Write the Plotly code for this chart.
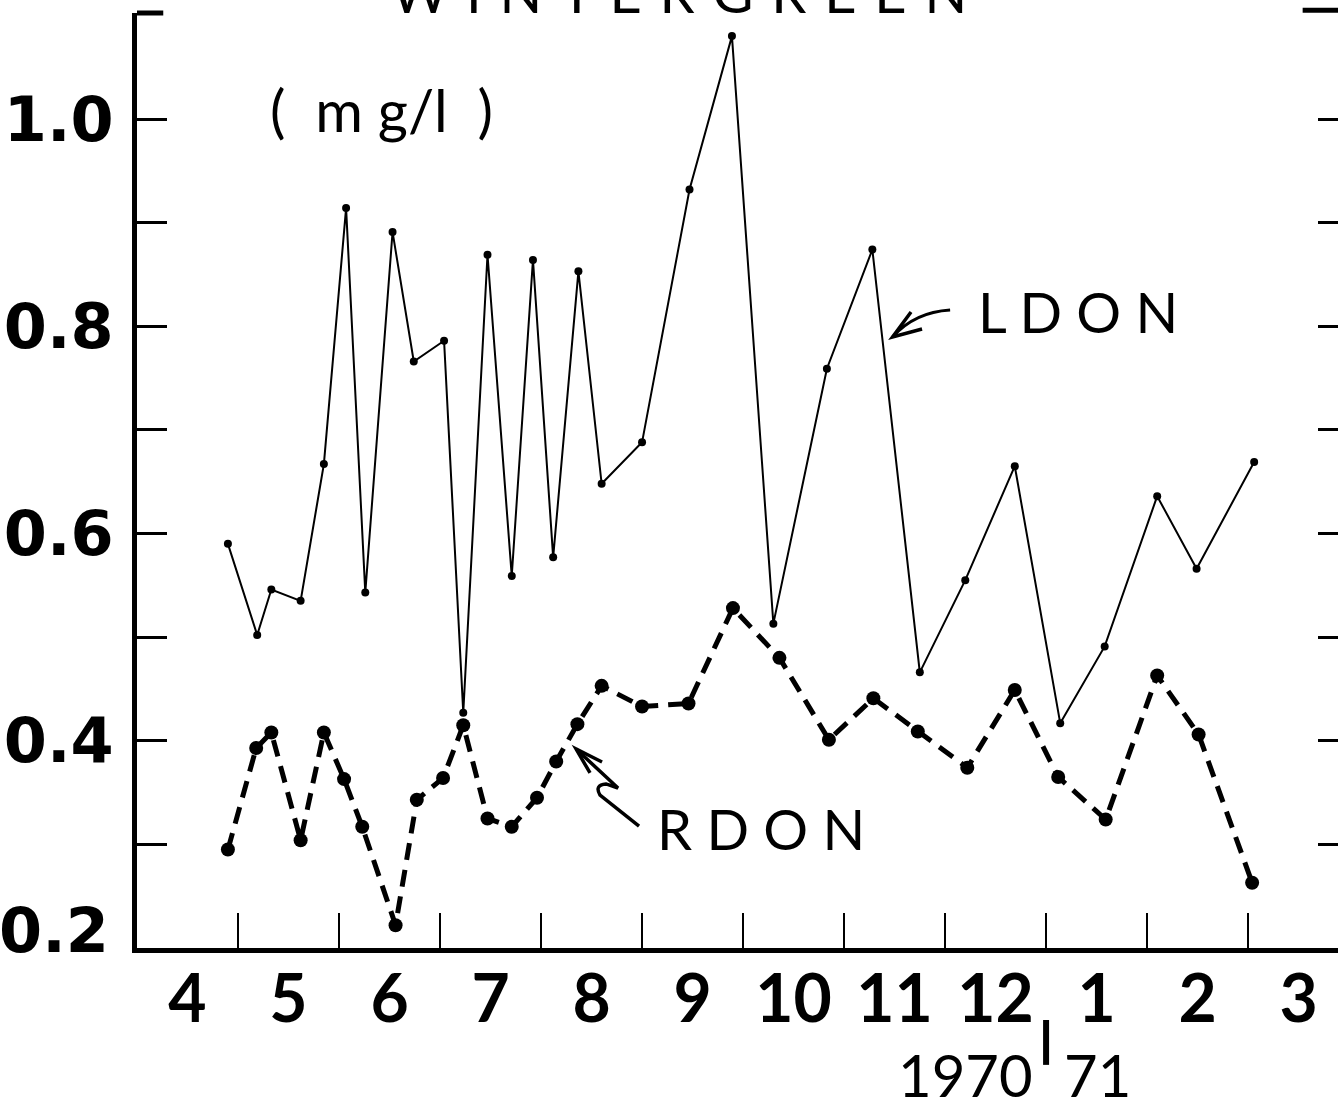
import plotly.graph_objects as go

# Sampling positions in months since 1 April 1970 (tick 1 = start of May, ...)
ldon_x = [0.90, 1.19, 1.33, 1.62, 1.85, 2.07, 2.26, 2.53, 2.74, 3.04, 3.23,
          3.47, 3.71, 3.92, 4.12, 4.37, 4.60, 5.00, 5.47, 5.89, 6.30, 6.83,
          7.28, 7.75, 8.20, 8.69, 9.14, 9.58, 10.10, 10.49, 11.06]
ldon_y = [0.590, 0.502, 0.546, 0.535, 0.667, 0.914, 0.543, 0.891, 0.766, 0.786, 0.427,
          0.869, 0.559, 0.864, 0.577, 0.853, 0.648, 0.688, 0.932, 1.080, 0.513, 0.759,
          0.874, 0.466, 0.555, 0.665, 0.417, 0.491, 0.636, 0.566, 0.669]

rdon_x = [0.90, 1.18, 1.33, 1.62, 1.85, 2.05, 2.23, 2.56, 2.77, 3.03, 3.23,
          3.47, 3.71, 3.96, 4.15, 4.36, 4.60, 5.00, 5.46, 5.90, 6.36, 6.85,
          7.29, 7.73, 8.22, 8.69, 9.12, 9.59, 10.10, 10.51, 11.04]
rdon_y = [0.295, 0.393, 0.408, 0.304, 0.408, 0.363, 0.317, 0.222, 0.343, 0.364, 0.415,
          0.325, 0.317, 0.345, 0.380, 0.416, 0.453, 0.433, 0.436, 0.528, 0.480, 0.401,
          0.441, 0.409, 0.374, 0.449, 0.365, 0.324, 0.463, 0.406, 0.263]

month_labels = ["4", "5", "6", "7", "8", "9", "10", "11", "12", "1", "2", "3"]
month_centers = [i + 0.5 for i in range(len(month_labels))]
month_bounds = list(range(1, 12))

y_ticks = [0.2, 0.3, 0.4, 0.5, 0.6, 0.7, 0.8, 0.9, 1.0]
y_ticktext = ["", "", "0.4", "", "0.6", "", "0.8", "", "1.0"]

X_RANGE = [0, 11.89]
Y_RANGE = [0.2, 1.1023]

FONT = "Lato"
NUM_FONT = "DejaVu Sans"
NB = "\u00a0"
HAIR = "\u200a"


def spaced(s, gap=NB):
    return gap.join(s)


def path(points):
    return "M " + " L ".join(f"{x},{y}" for x, y in points)


fig = go.Figure()

fig.add_trace(go.Scatter(
    x=ldon_x, y=ldon_y, mode="lines+markers", name="LDON",
    line=dict(color="black", width=2),
    marker=dict(color="black", size=8),
    showlegend=False,
))
fig.add_trace(go.Scatter(
    x=rdon_x, y=rdon_y, mode="lines+markers", name="RDON",
    line=dict(color="black", width=5, dash="17px,10px"),
    marker=dict(color="black", size=14),
    showlegend=False,
))
# carrier for the overlay axes (inner tick marks on the bottom and right)
fig.add_trace(go.Scatter(x=[None], y=[None], xaxis="x2", yaxis="y2",
                         mode="markers", showlegend=False, hoverinfo="skip"))

fig.update_layout(
    width=1338, height=1104,
    margin=dict(l=137, r=0, t=13, b=156),
    paper_bgcolor="white", plot_bgcolor="white",
    font=dict(family=FONT, color="black"),
    xaxis=dict(
        range=X_RANGE, showgrid=False, zeroline=False, automargin=False,
        showline=True, linecolor="black", linewidth=5,
        tickmode="array", tickvals=month_centers, ticktext=month_labels,
        ticks="", ticklabelstandoff=-10,
        tickfont=dict(family=FONT, size=66, weight="bold", color="black"),
    ),
    xaxis2=dict(
        range=X_RANGE, overlaying="x", anchor="y2", side="bottom", automargin=False,
        showgrid=False, zeroline=False, showline=False,
        tickmode="array", tickvals=month_bounds,
        ticks="inside", ticklen=35, tickwidth=2, tickcolor="black",
        showticklabels=False,
    ),
    yaxis=dict(
        range=Y_RANGE, showgrid=False, zeroline=False, automargin=False,
        showline=True, linecolor="black", linewidth=5,
        tickmode="array", tickvals=y_ticks, ticktext=y_ticktext,
        ticks="inside", ticklen=30, tickwidth=2.5, tickcolor="black",
        ticklabelstandoff=6,
        tickfont=dict(family=NUM_FONT, size=62, weight="bold", color="black"),
    ),
    yaxis2=dict(
        range=Y_RANGE, overlaying="y", anchor="x2", side="right", automargin=False,
        showgrid=False, zeroline=False, showline=False,
        tickmode="array", tickvals=y_ticks[1:],
        ticks="inside", ticklen=20, tickwidth=2.5, tickcolor="black",
        showticklabels=False,
    ),
)

# corner pieces of the top frame
fig.add_shape(type="line", xref="x", yref="paper", x0=0, x1=0.26, y0=1, y1=1,
              line=dict(color="black", width=5))
fig.add_shape(type="line", xref="x", yref="paper", x0=11.54, x1=11.89, y0=1.003, y1=1.003,
              line=dict(color="black", width=5))

# year divider between Dec and Jan
fig.add_shape(type="line", xref="x", yref="paper", x0=9, x1=9, y0=-0.077, y1=-0.125,
              line=dict(color="black", width=6))

# arrow pointing to the LDON curve
fig.add_shape(type="path", xref="x", yref="y",
              path="M 8.05,0.8157 Q 7.70,0.8137 7.48,0.7897",
              line=dict(color="black", width=3))
fig.add_shape(type="path", xref="x", yref="y",
              path=path([(7.663, 0.8137), (7.48, 0.7897), (7.772, 0.7973)]),
              line=dict(color="black", width=3.5))

# squiggly arrow pointing to the RDON curve
fig.add_shape(type="path", xref="x", yref="y",
              path="M 4.970,0.3177 L 4.584,0.3476 Q 4.525,0.3573 4.644,0.3583 "
                   "L 4.762,0.3544 L 4.347,0.392",
              line=dict(color="black", width=3.5))
fig.add_shape(type="path", xref="x", yref="y",
              path=path([(4.604, 0.3795), (4.347, 0.392), (4.485, 0.3689)]),
              line=dict(color="black", width=3.5))

annotations = [
    dict(text=spaced("WINTERGREEN", NB + HAIR), xref="x", yref="paper", x=5.366, y=0.985,
         xanchor="center", yanchor="bottom", font=dict(size=56)),
    dict(text="(" + NB + NB + "m" + NB + "g/l" + NB + NB + ")", xref="x", yref="y",
         x=2.416, y=1.0087, xanchor="center", yanchor="middle", font=dict(size=58)),
    dict(text=spaced("LDON"), xref="x", yref="y", x=9.317, y=0.8147,
         xanchor="center", yanchor="middle", font=dict(size=56)),
    dict(text=spaced("RDON"), xref="x", yref="y", x=6.178, y=0.3158,
         xanchor="center", yanchor="middle", font=dict(size=56)),
    dict(text="0.2", xref="paper", yref="y", x=-0.0218, y=0.217,
         xanchor="right", yanchor="middle",
         font=dict(family=NUM_FONT, size=62, weight="bold")),
    dict(text="1970", xref="x", yref="paper", x=8.89, y=-0.135,
         xanchor="right", yanchor="middle", font=dict(size=58)),
    dict(text="71", xref="x", yref="paper", x=9.16, y=-0.135,
         xanchor="left", yanchor="middle", font=dict(size=58)),
]
for a in annotations:
    a.setdefault("showarrow", False)
    a["font"].setdefault("family", FONT)
    a["font"].setdefault("color", "black")
fig.update_layout(annotations=annotations)

fig.write_html("out.html")
